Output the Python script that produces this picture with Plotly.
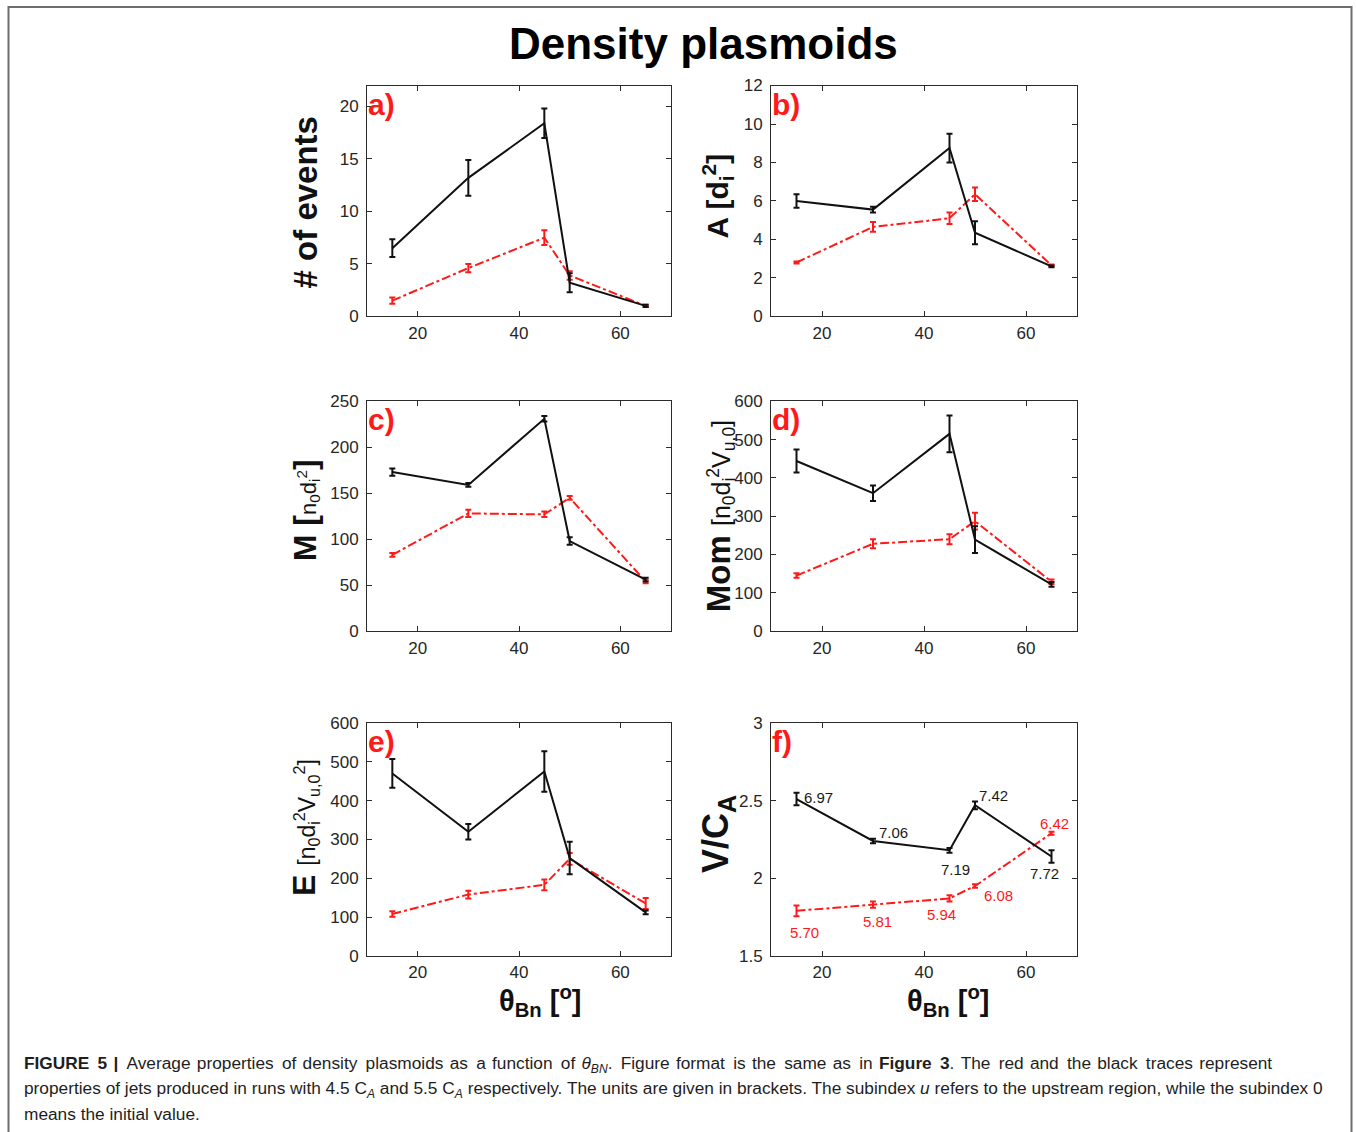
import plotly.graph_objects as go

# Shock-normal angle of each run (degrees)
theta_bn = [15, 30, 45, 50, 65]

# a) number of events
events_55 = [6.5, 13.2, 18.4, 3.2, 1.0]
events_55_err = [0.85, 1.7, 1.4, 0.9, 0.1]
events_45 = [1.5, 4.6, 7.5, 3.9, 1.0]
events_45_err = [0.3, 0.4, 0.7, 0.4, 0.1]

# b) area [d_i^2]
area_55 = [6.0, 5.55, 8.75, 4.35, 2.6]
area_55_err = [0.35, 0.15, 0.75, 0.6, 0.05]
area_45 = [2.8, 4.65, 5.1, 6.35, 2.65]
area_45_err = [0.05, 0.25, 0.3, 0.35, 0.05]

# c) mass [n0 d_i^2]
mass_55 = [173, 159, 231, 98, 56]
mass_55_err = [4, 2, 3, 4, 2]
mass_45 = [83, 128, 127, 145, 54]
mass_45_err = [2, 4, 3, 2, 2]

# d) momentum [n0 d_i^2 V_u,0]
mom_55 = [444, 360, 515, 239, 122]
mom_55_err = [30, 20, 48, 35, 6]
mom_45 = [145, 228, 240, 287, 129]
mom_45_err = [6, 12, 13, 22, 6]

# e) energy [n0 d_i^2 V_u,0^2]
energy_55 = [470, 320, 475, 252, 112]
energy_55_err = [37, 20, 52, 42, 5]
energy_45 = [108, 158, 183, 250, 135]
energy_45_err = [7, 10, 14, 15, 14]

# f) speed V/C_A, with labels
speed_55 = [2.51, 2.24, 2.18, 2.47, 2.14]
speed_55_err = [0.04, 0.015, 0.015, 0.025, 0.04]
speed_45 = [1.79, 1.83, 1.87, 1.95, 2.29]
speed_45_err = [0.035, 0.02, 0.02, 0.012, 0.01]
speed_55_labels = ["6.97", "7.06", "7.19", "7.42", "7.72"]
speed_45_labels = ["5.70", "5.81", "5.94", "6.08", "6.42"]

panel_letters = ["a)", "b)", "c)", "d)", "e)", "f)"]
x_ticks = [20, 40, 60]
y_ticks = [
    [0, 5, 10, 15, 20],
    [0, 2, 4, 6, 8, 10, 12],
    [0, 50, 100, 150, 200, 250],
    [0, 100, 200, 300, 400, 500, 600],
    [0, 100, 200, 300, 400, 500, 600],
    [1.5, 2, 2.5, 3],
]
y_tick_text = [
    None, None, None, None, None,
    ["1.5", "2", "2.5", "3"],
]

W, H = 1356, 1132
FONT = "Liberation Sans, Arial, Helvetica, sans-serif"
BLACK = "#111111"
RED = "#ff1a1a"
AXIS = "#2b2b2b"


def px_x(p):
    """Horizontal pixel position -> paper fraction."""
    return p / W


def px_y(p):
    """Vertical pixel position (from top) -> paper fraction, corrected for page offset."""
    return 1 - ((p - 8.4) / 0.984) / H


col_px = [(367, 671), (771, 1077)]
row_px = [(85, 316), (401, 631), (723, 956)]
y_ranges = [[0, 22], [0, 12], [0, 250], [0, 600], [0, 600], [1.5, 3]]

panels = [
    (events_55, events_55_err, events_45, events_45_err),
    (area_55, area_55_err, area_45, area_45_err),
    (mass_55, mass_55_err, mass_45, mass_45_err),
    (mom_55, mom_55_err, mom_45, mom_45_err),
    (energy_55, energy_55_err, energy_45, energy_45_err),
    (speed_55, speed_55_err, speed_45, speed_45_err),
]

fig = go.Figure()
layout_axes = {}
annotations = []

for i, (b, be, r, re_) in enumerate(panels):
    n = i + 1
    xa = "x" if n == 1 else f"x{n}"
    ya = "y" if n == 1 else f"y{n}"
    col = i % 2
    row = i // 2
    x0, x1 = col_px[col]
    top, bot = row_px[row]

    fig.add_trace(go.Scatter(
        x=theta_bn, y=r, xaxis=xa, yaxis=ya, mode="lines",
        line=dict(color=RED, width=2, dash="dashdot"),
        error_y=dict(type="data", array=re_, color=RED, thickness=2, width=3),
        showlegend=False, hoverinfo="skip",
    ))
    fig.add_trace(go.Scatter(
        x=theta_bn, y=b, xaxis=xa, yaxis=ya, mode="lines",
        line=dict(color=BLACK, width=2),
        error_y=dict(type="data", array=be, color=BLACK, thickness=2, width=3),
        showlegend=False, hoverinfo="skip",
    ))

    axis_common = dict(
        showline=True, linecolor=AXIS, linewidth=1, mirror="ticks",
        ticks="inside", ticklen=5, tickcolor=AXIS, tickwidth=1,
        showgrid=False, zeroline=False,
        tickfont=dict(family=FONT, size=17, color="#262626"),
    )
    layout_axes["xaxis" if n == 1 else f"xaxis{n}"] = dict(
        domain=[px_x(x0), px_x(x1)], anchor=ya, range=[10, 70],
        tickvals=x_ticks, ticklabelstandoff=1, **axis_common,
    )
    yax = dict(
        domain=[px_y(bot), px_y(top)], anchor=xa, range=y_ranges[i],
        tickvals=y_ticks[i], ticklabelstandoff=4, **axis_common,
    )
    if y_tick_text[i] is not None:
        yax["ticktext"] = y_tick_text[i]
    layout_axes["yaxis" if n == 1 else f"yaxis{n}"] = yax

    # panel letter in the top-left corner
    annotations.append(dict(
        text=f"<b>{panel_letters[i]}</b>", xref=f"{xa} domain", yref=f"{ya} domain",
        x=0.0, y=1.0, xanchor="left", yanchor="top", xshift=-1, yshift=0,
        showarrow=False, font=dict(family=FONT, size=30, color=RED),
    ))

# y-axis titles
y_titles = [
    ("<b># of events</b>", 305, 202, 33),
    ("<b>A [d<sub>i</sub><sup>2</sup>]</b>", 718, 196, 30),
    ("<b>M</b> <b>[</b><span style='font-size:22px'>n<sub>0</sub>d<sub>i</sub><sup>2</sup></span><b>]</b>", 305, 510, 32),
    ("<b>Mom</b> <span style='font-size:25px'>[n<sub>0</sub>d<sub>i</sub><sup>2</sup>V<sub>u,0</sub>]</span>", 719, 516, 33),
    ("<b>E</b> <span style='font-size:23px'>[n<sub>0</sub>d<sub>i</sub><sup>2</sup>V<sub>u,0</sub><sup>2</sup>]</span>", 305, 828, 32),
    ("<b>V/C<sub>A</sub></b>", 718, 834, 36),
]
for txt, px, py, fs in y_titles:
    annotations.append(dict(
        text=txt, xref="paper", yref="paper", x=px_x(px), y=px_y(py),
        xanchor="center", yanchor="middle", textangle=-90, showarrow=False,
        font=dict(family=FONT, size=fs, color="#111111"),
    ))

# x-axis titles
for px in (540, 948):
    annotations.append(dict(
        text="<b>θ<sub>Bn</sub> [<sup>o</sup>]</b>", xref="paper", yref="paper",
        x=px_x(px), y=px_y(1001), xanchor="center", yanchor="middle",
        showarrow=False, font=dict(family=FONT, size=29, color="#111111"),
    ))

# value labels of panel f
black_shift = [(22, 2), (20, 8), (6, -19), (18, 10), (-7, -17)]
red_shift = [(8, -22), (4, -17), (-8, -16), (23, -9), (3, 10)]
for xv, yv, lab, (dx, dy) in zip(theta_bn, speed_55, speed_55_labels, black_shift):
    annotations.append(dict(
        text=lab, x=xv, y=yv, xref="x6", yref="y6", xshift=dx, yshift=dy,
        showarrow=False, font=dict(family=FONT, size=15, color="#1a1a1a"),
    ))
for xv, yv, lab, (dx, dy) in zip(theta_bn, speed_45, speed_45_labels, red_shift):
    annotations.append(dict(
        text=lab, x=xv, y=yv, xref="x6", yref="y6", xshift=dx, yshift=dy,
        showarrow=False, font=dict(family=FONT, size=15, color=RED),
    ))

# figure title
annotations.append(dict(
    text="<b>Density plasmoids</b>", xref="paper", yref="paper",
    x=px_x(703), y=px_y(43), xanchor="center", yanchor="middle",
    showarrow=False, font=dict(family=FONT, size=44, color="#000000"),
))


def justify(text):
    """Widen the word gaps of a justified caption line, alternating thin and hair spaces."""
    words = text.split(" ")
    out = words[0]
    for k, w in enumerate(words[1:]):
        out += (" \u2009" if k % 2 == 0 else " \u200a") + w
    return out


caption_lines = [
    justify("<b>FIGURE 5 |</b> Average properties of density plasmoids as a function of "
            "<i>θ<sub>BN</sub></i>. Figure format is the same as in <b>Figure 3</b>. "
            "The red and the black traces represent"),
    "properties of jets produced in runs with 4.5 C<sub><i>A</i></sub> and 5.5 C<sub><i>A</i></sub> "
    "respectively. The units are given in brackets. The subindex <i>u</i> refers to the upstream region, "
    "while the subindex 0",
    "means the initial value.",
]
for k, line in enumerate(caption_lines):
    annotations.append(dict(
        text=line, xref="paper", yref="paper", x=px_x(22), y=px_y(1065 + 24.5 * k),
        xanchor="left", yanchor="middle", showarrow=False, align="left",
        font=dict(family=FONT, size=17.3, color="#1e1e1e"),
    ))

fig.update_layout(
    width=W, height=H,
    margin=dict(l=0, r=0, t=0, b=0),
    paper_bgcolor="white", plot_bgcolor="white",
    annotations=annotations,
    shapes=[dict(
        type="rect", xref="paper", yref="paper",
        x0=px_x(8.5), x1=px_x(1351.5), y0=-0.03, y1=px_y(6.5),
        line=dict(color="#6e6e6e", width=2), fillcolor="rgba(0,0,0,0)", layer="below",
    )],
    **layout_axes,
)

fig.write_html("out.html")
